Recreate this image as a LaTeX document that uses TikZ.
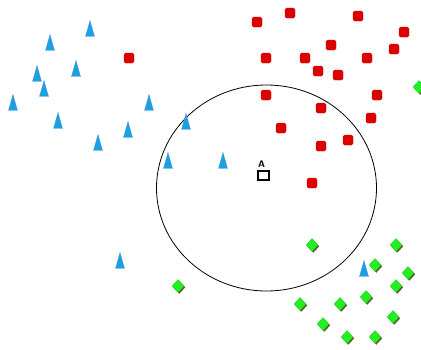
\documentclass[tikz,border=0pt]{standalone}
\usetikzlibrary{shapes.geometric,shadows,positioning}
\definecolor{tricol}{RGB}{27,160,228}
\definecolor{tribd}{RGB}{90,150,215}
\definecolor{sqcol}{RGB}{221,0,0}
\definecolor{diacol}{RGB}{34,238,34}
\definecolor{diashd}{RGB}{90,95,40}
\begin{document}
\begin{tikzpicture}[x=1pt,y=-1pt]
    \tikzstyle{trip} = [isosceles triangle,shape border rotate=90,isosceles triangle apex angle=34,
                        isosceles triangle stretches,minimum width=9pt,minimum height=16pt,
                        inner sep=0pt,fill=tricol,draw=tribd,line width=.3pt]
    \tikzstyle{sqp} = [rectangle,rounded corners=1.5pt,minimum size=10pt,inner sep=0pt,
                       fill=sqcol,draw=sqcol!85!black,line width=.3pt]
    \tikzstyle{diap} = [diamond,minimum width=12pt,minimum height=13pt,inner sep=0pt,
                        fill=diacol,draw=diacol!90!black,line width=.3pt,
                        drop shadow={shadow xshift=1.3pt,shadow yshift=-1.3pt,fill=diashd,opacity=1}]
    \useasboundingbox (0,0) rectangle (421,349);
    % search radius round A
    \draw[line width=.8pt] (266.5,188) ellipse (110 and 103);
    % triangles
    \path (90,33) node[trip] (t1) {}
        (50,47) node[trip] (t2) {}
        (76,73) node[trip] (t3) {}
        (37,78) node[trip] (t4) {}
        (44,93) node[trip] (t5) {}
        (13,107) node[trip] (t6) {}
        (149,107) node[trip] (t7) {}
        (58,125) node[trip] (t8) {}
        (128,134) node[trip] (t9) {}
        (186,126) node[trip] (t10) {}
        (98,147) node[trip] (t11) {}
        (168,165) node[trip] (t12) {}
        (223,165) node[trip] (t13) {}
        (120,265) node[trip] (t14) {}
        (364,273) node[trip] (t15) {};
    % squares
    \path (129,58) node[sqp] (s1) {}
        (257,22) node[sqp] (s2) {}
        (290,13) node[sqp] (s3) {}
        (358,16) node[sqp] (s4) {}
        (404,32) node[sqp] (s5) {}
        (331,45) node[sqp] (s6) {}
        (394,49) node[sqp] (s7) {}
        (266,58) node[sqp] (s8) {}
        (305,58) node[sqp] (s9) {}
        (367,58) node[sqp] (s10) {}
        (318,71) node[sqp] (s11) {}
        (338,75) node[sqp] (s12) {}
        (266,95) node[sqp] (s13) {}
        (377,95) node[sqp] (s14) {}
        (321,108) node[sqp] (s15) {}
        (371,118) node[sqp] (s16) {}
        (281,128) node[sqp] (s17) {}
        (348,140) node[sqp] (s18) {}
        (321,146) node[sqp] (s19) {}
        (312,183) node[sqp] (s20) {};
    % diamonds
    \path (419,87) node[diap] (d1) {}
        (178,286) node[diap] (d2) {}
        (312,245) node[diap] (d3) {}
        (396,245) node[diap] (d4) {}
        (375,265) node[diap] (d5) {}
        (408,273) node[diap] (d6) {}
        (396,286) node[diap] (d7) {}
        (366,297) node[diap] (d8) {}
        (300,304) node[diap] (d9) {}
        (340,304) node[diap] (d10) {}
        (393,317) node[diap] (d11) {}
        (323,324) node[diap] (d12) {}
        (347,337) node[diap] (d13) {}
        (375,337) node[diap] (d14) {};
    % query point
    \node[draw,line width=1.5pt,minimum width=11pt,minimum height=9pt,inner sep=0pt] (ptA) at (263.5,175.5) {};
    \node[font=\sffamily\bfseries\fontsize{9.5}{9.5}\selectfont,inner sep=0pt,above=3pt of ptA,xshift=-2pt] (labA) {A};
\end{tikzpicture}
\end{document}
